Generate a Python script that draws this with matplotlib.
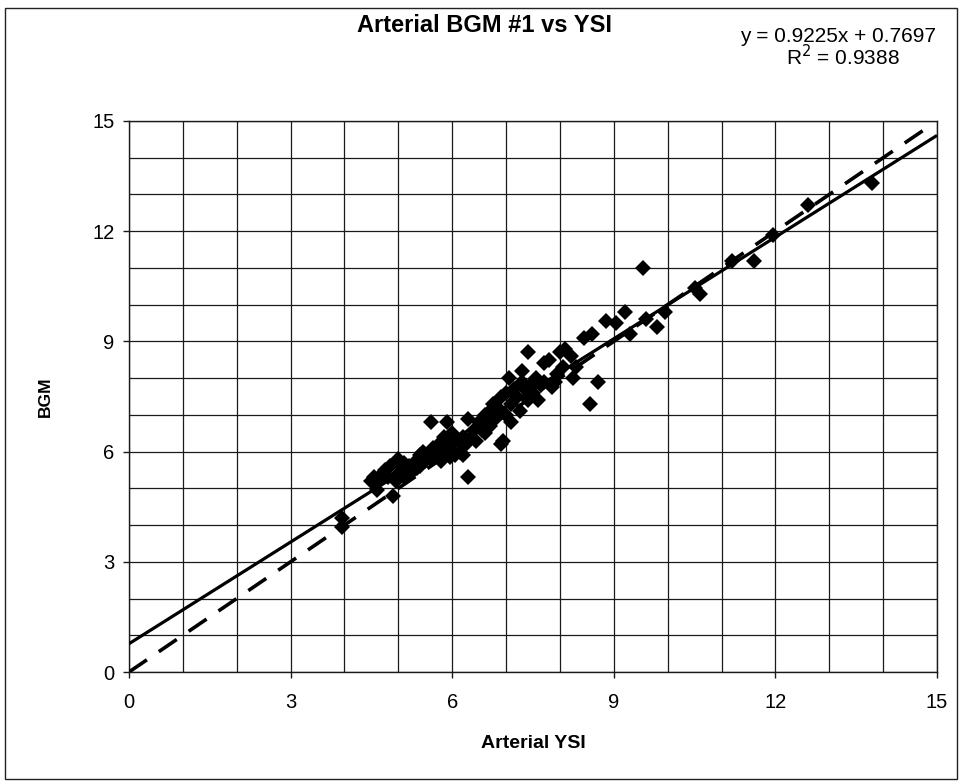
import matplotlib
matplotlib.use("Agg")
import matplotlib.pyplot as plt
from matplotlib.ticker import MultipleLocator
from matplotlib.patches import Rectangle

# ---- data ----
ysi = [4.5, 4.55, 4.6, 4.65, 4.7, 4.75, 4.8, 4.85, 4.9, 4.95,
       5.0, 5.0, 5.05, 5.1, 5.1, 5.15, 5.2, 5.25, 5.3, 5.35,
       5.4, 5.4, 5.45, 5.5, 5.55, 5.6, 5.6, 5.65, 5.7, 5.75,
       5.8, 5.8, 5.85, 5.9, 5.9, 5.95, 6.0, 6.0, 6.05, 6.1,
       6.15, 6.2, 6.2, 6.25, 6.3, 6.3, 6.35, 6.4, 6.45, 6.5,
       6.55, 6.6, 6.6, 6.65, 6.7, 6.7, 6.75, 6.8, 6.85, 6.9,
       6.9, 6.95, 7.0, 7.0, 7.05, 7.1, 7.1, 7.15, 7.2, 7.25,
       7.3, 7.3, 7.35, 7.4, 7.4, 7.45, 7.5, 7.55, 7.6, 7.65,
       7.7, 7.7, 7.8, 7.85, 7.9, 7.95, 8.0, 8.05, 8.1, 8.2,
       8.25, 8.3, 8.45, 8.55, 8.6, 8.7, 8.85, 9.05, 9.2, 9.3,
       9.55, 9.6, 9.8, 9.95, 10.5, 10.6, 11.2, 11.6, 11.95, 12.6,
       13.8, 3.95, 3.95]
bgm = [5.2, 5.3, 4.95, 5.25, 5.4, 5.5, 5.3, 5.6, 4.8, 5.2,
       5.8, 5.4, 5.6, 5.3, 5.7, 5.5, 5.6, 5.45, 5.7, 5.55,
       5.9, 5.6, 6.0, 5.75, 5.9, 6.8, 5.8, 6.1, 5.9, 6.2,
       6.0, 5.75, 6.4, 6.8, 6.1, 5.85, 6.2, 6.5, 5.9, 6.3,
       6.0, 6.4, 5.9, 6.2, 6.9, 5.3, 6.4, 6.6, 6.3, 6.8,
       6.6, 7.0, 6.5, 6.8, 7.1, 6.7, 7.3, 6.9, 7.2, 7.5,
       6.2, 6.3, 7.0, 7.6, 8.0, 7.3, 6.8, 7.7, 7.5, 7.1,
       7.9, 8.2, 7.7, 8.7, 7.4, 7.8, 7.6, 8.0, 7.4, 7.8,
       8.4, 7.9, 8.5, 7.75, 7.9, 8.1, 8.7, 8.3, 8.8, 8.6,
       8.0, 8.3, 9.1, 7.3, 9.2, 7.9, 9.55, 9.5, 9.8, 9.2,
       11.0, 9.6, 9.4, 9.8, 10.45, 10.3, 11.2, 11.2, 11.9, 12.7,
       13.3, 4.2, 3.95]

slope = 0.9225
intercept = 0.7697
r_squared = 0.9388
fit_x = [0, 15]
identity_x = [0, 14.8]

title = "Arterial BGM #1 vs YSI"
x_label = "Arterial YSI"
y_label = "BGM"
ticks = [0, 3, 6, 9, 12, 15]

# ---- figure ----
W, H = 963, 782
fig = plt.figure(figsize=(W / 100, H / 100), dpi=100)
fig.patch.set_facecolor("white")
ax = fig.add_axes([129 / W, 1 - 672 / H, (937 - 129) / W, (672 - 121) / H])

ax.set_xlim(0, 15)
ax.set_ylim(0, 15)
ax.set_xticks(ticks)
ax.set_yticks(ticks)
ax.xaxis.set_minor_locator(MultipleLocator(1))
ax.yaxis.set_minor_locator(MultipleLocator(1))
ax.grid(which="both", color="#1a1a1a", linewidth=0.9)
ax.set_axisbelow(True)
ax.tick_params(which="minor", length=0)
ax.tick_params(which="major", direction="out", length=4.3, width=1, color="#1a1a1a",
               labelsize=14.5)
ax.tick_params(axis="x", pad=11)
ax.tick_params(axis="y", pad=6)
for lbl in ax.get_xticklabels() + ax.get_yticklabels():
    lbl.set_fontfamily("Liberation Sans")
for sp in ax.spines.values():
    sp.set_color("#1a1a1a")
    sp.set_linewidth(1.0)

ax.plot(ysi, bgm, linestyle="none", marker="D", markersize=8.5, color="black",
        markeredgewidth=0, zorder=3)

fit_y = [slope * v + intercept for v in fit_x]
ax.plot(fit_x, fit_y, color="black", linewidth=2.3, zorder=4, solid_capstyle="butt")
ax.plot(identity_x, identity_x, color="black", linewidth=2.6, dashes=(6, 4),
        zorder=4, dash_capstyle="butt")

ax.set_xlabel(x_label, fontsize=14, fontweight="bold", family="Liberation Sans", va="center")
ax.xaxis.set_label_coords(0.5, -(743 - 672) / (672 - 121))
ax.set_ylabel(y_label, fontsize=12.5, fontweight="bold", family="Liberation Sans", va="center")
ax.yaxis.set_label_coords(-(129 - 45) / (937 - 129), 0.5)

fig.text(484 / W, 1 - 26 / H, title, ha="center", va="center", fontsize=17,
         fontweight="bold", family="Liberation Sans")
fig.text(838 / W, 1 - 36 / H, f"y = {slope}x + {intercept}", ha="center", va="center",
         fontsize=15, family="Liberation Sans")
fig.text(843 / W, 1 - 57 / H, f"R$^2$ = {r_squared}", ha="center", va="center",
         fontsize=15, family="Liberation Sans")

fig.patches.append(Rectangle((5 / W, 1 - 779 / H), (957 - 5) / W, (779 - 8) / H,
                             transform=fig.transFigure, fill=False,
                             edgecolor="#222222", linewidth=1.0))

fig.savefig("out.png", dpi=100, facecolor="white")
